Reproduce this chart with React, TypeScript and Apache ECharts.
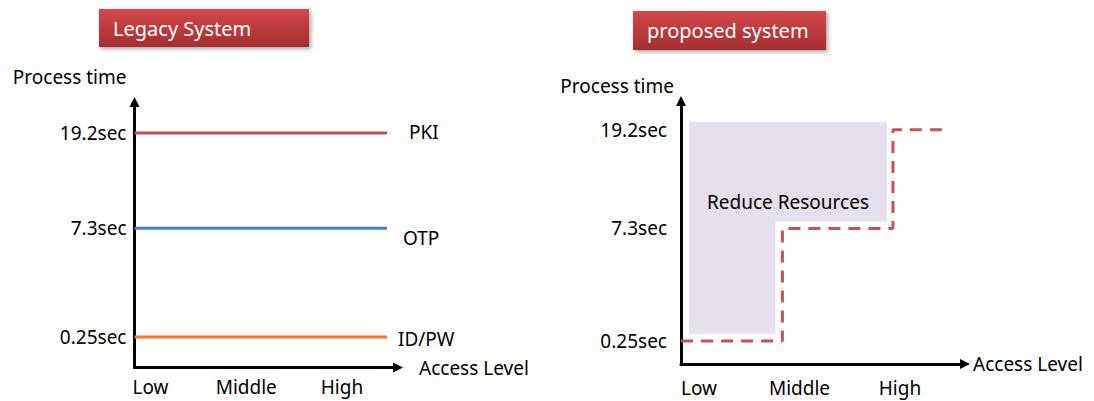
import React, { useEffect, useRef } from "react";
import * as echarts from "echarts";

// ---- data ----
const accessLevels = ["Low", "Middle", "High"];
const timeLabels = ["0.25sec", "7.3sec", "19.2sec"];
// schematic (not to scale) rank of each time level on the vertical axis
const timeRank = [1, 4.2, 7];
const legacyNames = ["PKI", "OTP", "ID/PW"];
const legacyTime = [2, 1, 0]; // index into timeLabels, same at every access level
const legacySpan = [-0.167, 2.47]; // access-level extent of legacy lines
const proposedTime = [0, 1, 2]; // index into timeLabels for Low, Middle, High
const proposedBreaks = [-0.179, 0.83, 1.93, 2.46]; // access-level boundaries of the proposed steps
const titles = ["Legacy System", "proposed system"];
const regionLabel = "Reduce Resources";

const FONT = '"Noto Sans", "Open Sans", sans-serif';
const legacyColors = ["#c0504d", "#4a7bee", "#f8751e"];
const labelOffsets = [
  [22, -1],
  [16, 10],
  [11, 2],
];

function rankLabel(v: number) {
  const i = timeRank.findIndex((r) => Math.abs(r - v) < 1e-6);
  return i >= 0 ? timeLabels[i] : "";
}

function levelLabel(v: number) {
  const i = Math.round(v);
  return Math.abs(v - i) < 1e-6 && accessLevels[i] ? accessLevels[i] : "";
}

export default function App() {
  const ref = useRef<HTMLDivElement>(null);
  useEffect(() => {
    if (!ref.current) return;
    const chart = echarts.init(ref.current, undefined, { renderer: "svg" });

    const axisLine = {
      show: true,
      onZero: false,
      lineStyle: { color: "#000", width: 3 },
      symbol: ["none", "triangle"],
      symbolSize: [10, 10],
    };
    const textBase = { color: "#000", fontSize: 19, fontFamily: FONT };

    const mkX = (gridIndex: number, min: number, max: number, gap: number, margin: number) => ({
      type: "value",
      gridIndex,
      min,
      max,
      axisLine,
      axisTick: { show: false },
      splitLine: { show: false },
      axisLabel: {
        ...textBase,
        margin,
        customValues: [0, 1, 2],
        formatter: (v: number) => levelLabel(v),
      },
      name: "Access Level",
      nameLocation: "end",
      nameGap: gap,
      nameTextStyle: { ...textBase, align: "left", verticalAlign: "middle" },
    });
    const mkY = (gridIndex: number, min: number, max: number, gap: number, margin: number, pad: number) => ({
      type: "value",
      gridIndex,
      min,
      max,
      axisLine,
      axisTick: { show: false },
      splitLine: { show: false },
      axisLabel: {
        ...textBase,
        margin,
        customValues: timeRank,
        formatter: (v: number) => rankLabel(v),
      },
      name: "Process time",
      nameLocation: "end",
      nameGap: gap,
      nameTextStyle: { ...textBase, align: "right", verticalAlign: "bottom", padding: [0, pad, 0, 0] },
    });

    const legacySeries = legacyNames.map((name, i) => ({
      type: "line",
      name,
      xAxisIndex: 0,
      yAxisIndex: 0,
      symbol: "none",
      lineStyle: { color: legacyColors[i], width: 3 },
      data: legacySpan.map((x) => [x, timeRank[legacyTime[i]]]),
      endLabel: {
        show: true,
        formatter: name,
        distance: 0,
        offset: labelOffsets[i],
        ...textBase,
      },
      z: 3,
    }));

    const stepData = proposedBreaks.map((x, i) => [
      x,
      timeRank[proposedTime[Math.min(i, proposedTime.length - 1)]],
    ]);

    const gridBase = { containLabel: false, outerBoundsMode: "none" };

    const option: any = {
      animation: false,
      grid: [
        { ...gridBase, left: 134.5, top: 102, width: 263.5, height: 265.5 },
        { ...gridBase, left: 681, top: 101, width: 284, height: 263 },
      ],
      xAxis: [mkX(0, -0.167, 2.585, 21, 10), mkX(1, -0.179, 2.647, 8, 14)],
      yAxis: [mkY(0, 0.103, 7.91, 16, 8, 8), mkY(1, 0.346, 7.82, 6, 14, 7)],
      graphic: [
        {
          type: "rect",
          shape: { x: 99, y: 9, width: 210, height: 38 },
          style: {
            fill: new echarts.graphic.LinearGradient(0, 0, 0, 1, [
              { offset: 0, color: "#d4484a" },
              { offset: 1, color: "#a32e2f" },
            ]),
            shadowBlur: 4,
            shadowOffsetX: 2,
            shadowOffsetY: 2,
            shadowColor: "rgba(0,0,0,0.35)",
          },
        },
        {
          type: "text",
          x: 113,
          y: 28,
          style: { text: titles[0], fill: "#fff", fontSize: 20, fontFamily: FONT, verticalAlign: "middle" },
        },
        {
          type: "rect",
          shape: { x: 633, y: 11, width: 193, height: 39 },
          style: {
            fill: new echarts.graphic.LinearGradient(0, 0, 0, 1, [
              { offset: 0, color: "#d4484a" },
              { offset: 1, color: "#a32e2f" },
            ]),
            shadowBlur: 4,
            shadowOffsetX: 2,
            shadowOffsetY: 2,
            shadowColor: "rgba(0,0,0,0.35)",
          },
        },
        {
          type: "text",
          x: 647,
          y: 30.5,
          style: { text: titles[1], fill: "#fff", fontSize: 20, fontFamily: FONT, verticalAlign: "middle" },
        },
      ],
      series: [
        ...legacySeries,
        {
          type: "custom",
          xAxisIndex: 1,
          yAxisIndex: 1,
          data: [0],
          z: 1,
          renderItem: (_params: any, api: any) => {
            const c = (x: number, y: number) => api.coord([x, y]);
            const left = c(proposedBreaks[0], timeRank[0])[0] + 8;
            const lowRight = c(proposedBreaks[1], timeRank[0])[0] - 7;
            const upRight = c(proposedBreaks[2], timeRank[0])[0] - 6;
            const top = c(0, timeRank[proposedTime[2]])[1] - 8;
            const step = c(0, timeRank[proposedTime[1]])[1] - 7;
            const bottom = c(0, timeRank[proposedTime[0]])[1] - 7;
            return {
              type: "group",
              children: [
                {
                  type: "polygon",
                  shape: {
                    points: [
                      [left, top],
                      [upRight, top],
                      [upRight, step],
                      [lowRight, step],
                      [lowRight, bottom],
                      [left, bottom],
                    ],
                  },
                  style: { fill: "#e5e0ec" },
                },
                {
                  type: "text",
                  x: (left + upRight) / 2,
                  y: step - 19,
                  style: {
                    text: regionLabel,
                    fill: "#000",
                    fontSize: 19,
                    fontFamily: FONT,
                    align: "center",
                    verticalAlign: "middle",
                  },
                },
              ],
            };
          },
        },
        {
          type: "line",
          name: "proposed",
          xAxisIndex: 1,
          yAxisIndex: 1,
          step: "end",
          symbol: "none",
          data: stepData,
          lineStyle: { color: "#c85250", width: 3, type: [12, 8] },
          z: 3,
        },
      ],
    };
    chart.setOption(option);
    return () => chart.dispose();
  }, []);
  return (
    <div
      ref={ref}
      style={{ position: "absolute", left: 0, top: 0, width: 1094, height: 401, background: "#fff" }}
    />
  );
}
